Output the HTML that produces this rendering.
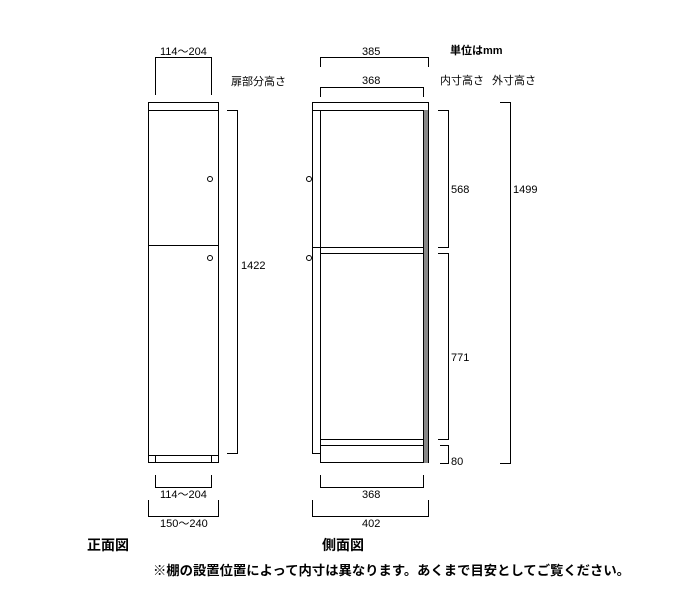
<!DOCTYPE html><html><head><meta charset="utf-8"><style>body{margin:0;background:#fff}svg{display:block}text{font-family:"Liberation Sans","Noto Sans CJK JP",sans-serif;font-size:11px;fill:#000}</style></head><body>
<svg width="700" height="601" viewBox="0 0 700 601" fill="none" stroke="#000" stroke-width="1">
<!-- front -->
<rect x="148.5" y="102.5" width="70" height="8"/>
<rect x="148.5" y="110.5" width="70" height="352"/>
<line x1="148" y1="245.5" x2="218" y2="245.5"/>
<line x1="148" y1="455.5" x2="218" y2="455.5"/>
<line x1="155.5" y1="455" x2="155.5" y2="463"/><line x1="211.5" y1="455" x2="211.5" y2="463"/>
<circle cx="210" cy="179" r="2.5"/><circle cx="210" cy="258" r="2.5"/>
<polyline points="155.5,95 155.5,57.5 211.5,57.5 211.5,95"/>
<polyline points="227,110.5 237.5,110.5 237.5,453.5 227,453.5"/>
<polyline points="155.5,475 155.5,487.5 211.5,487.5 211.5,475"/>
<polyline points="148.5,500 148.5,516.5 218.5,516.5 218.5,500"/>
<!-- side -->
<rect x="312.5" y="102.5" width="116" height="8"/>
<rect x="320.5" y="110.5" width="108" height="352"/>
<rect x="423" y="110" width="5" height="353" fill="#888" stroke="none"/>
<line x1="423.5" y1="110" x2="423.5" y2="463"/>
<polyline points="320,110.5 312.5,110.5 312.5,453.5 320,453.5"/>
<line x1="312" y1="247.5" x2="423" y2="247.5"/><line x1="320" y1="253.5" x2="423" y2="253.5"/>
<line x1="320" y1="439.5" x2="423" y2="439.5"/><line x1="320" y1="445.5" x2="423" y2="445.5"/>
<circle cx="309" cy="179" r="2.5"/><circle cx="309" cy="258" r="2.5"/>
<polyline points="320.5,67 320.5,57.5 428.5,57.5 428.5,67"/>
<polyline points="320.5,97 320.5,87.5 423.5,87.5 423.5,97"/>
<polyline points="438,110.5 448.5,110.5 448.5,247.5 438,247.5"/>
<polyline points="438,253.5 448.5,253.5 448.5,439.5 438,439.5"/>
<polyline points="440,445.5 448.5,445.5 448.5,463.5 440,463.5"/>
<polyline points="500,102.5 510.5,102.5 510.5,463.5 500,463.5"/>
<polyline points="320.5,475 320.5,487.5 423.5,487.5 423.5,475"/>
<polyline points="312.5,500 312.5,516.5 428.5,516.5 428.5,500"/>
<g stroke="none">
<text x="160" y="55">114～204</text>
<text x="231" y="85">扉部分高さ</text>
<text x="241" y="269">1422</text>
<text x="160" y="498">114～204</text>
<text x="160" y="527">150～240</text>
<text x="362" y="55">385</text>
<text x="362" y="84">368</text>
<text x="450" y="54" style="font-weight:bold">単位はmm</text>
<text x="440" y="84">内寸高さ</text>
<text x="492" y="84">外寸高さ</text>
<text x="451" y="193">568</text>
<text x="451" y="361">771</text>
<text x="451" y="465">80</text>
<text x="513" y="193">1499</text>
<text x="362" y="498">368</text>
<text x="362" y="527">402</text>
<text x="87" y="550" style="font-size:14px;font-weight:bold">正面図</text>
<text x="322" y="550" style="font-size:14px;font-weight:bold">側面図</text>
<text x="153" y="575" style="font-size:13px;font-weight:bold" textLength="477" lengthAdjust="spacingAndGlyphs">※棚の設置位置によって内寸は異なります。あくまで目安としてご覧ください。</text>
</g>
</svg></body></html>
